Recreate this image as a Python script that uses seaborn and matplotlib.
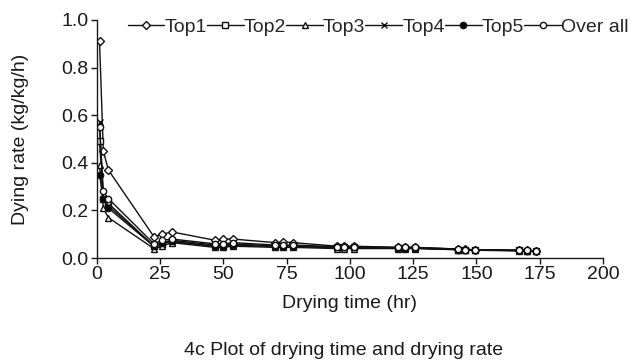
import pandas as pd
import seaborn as sns
import matplotlib.pyplot as plt

# Drying time (hr), shared by all series
hours = [1, 2.5, 4.5, 22.5, 25.7, 29.6, 46.6, 49.8, 53.8, 70.4, 73.5, 77.5,
         94.9, 97.6, 101.6, 119, 121.7, 125.7, 142.7, 145.5, 149.4, 167, 169.9, 173.5]

# Drying rate (kg/kg/h)
top1 = [0.91, 0.45, 0.37, 0.09, 0.10, 0.11, 0.075, 0.08, 0.08, 0.065, 0.068, 0.065,
        0.05, 0.05, 0.05, 0.045, 0.045, 0.045, 0.038, 0.037, 0.035, 0.033, 0.032, 0.03]
top2 = [0.49, 0.25, 0.23, 0.05, 0.06, 0.07, 0.05, 0.05, 0.055, 0.05, 0.05, 0.05,
        0.045, 0.045, 0.045, 0.042, 0.042, 0.042, 0.036, 0.035, 0.034, 0.032, 0.031, 0.03]
top3 = [0.39, 0.21, 0.17, 0.04, 0.05, 0.065, 0.045, 0.045, 0.05, 0.045, 0.045, 0.045,
        0.04, 0.04, 0.04, 0.04, 0.04, 0.04, 0.035, 0.035, 0.033, 0.03, 0.03, 0.028]
top4 = [0.57, 0.25, 0.22, 0.05, 0.065, 0.075, 0.055, 0.055, 0.06, 0.05, 0.05, 0.05,
        0.045, 0.045, 0.045, 0.042, 0.042, 0.042, 0.036, 0.035, 0.034, 0.032, 0.031, 0.03]
top5 = [0.35, 0.25, 0.21, 0.05, 0.065, 0.07, 0.05, 0.05, 0.055, 0.05, 0.05, 0.05,
        0.045, 0.045, 0.045, 0.042, 0.042, 0.042, 0.036, 0.035, 0.034, 0.032, 0.031, 0.03]
overall = [0.55, 0.28, 0.25, 0.06, 0.075, 0.08, 0.06, 0.06, 0.065, 0.055, 0.055, 0.055,
           0.048, 0.048, 0.048, 0.045, 0.045, 0.045, 0.038, 0.036, 0.035, 0.033, 0.032, 0.03]

series = {'Top1': top1, 'Top2': top2, 'Top3': top3, 'Top4': top4, 'Top5': top5, 'Over all': overall}
markers = {'Top1': 'D', 'Top2': 's', 'Top3': '^', 'Top4': 'x', 'Top5': 'o', 'Over all': 'o'}
sizes = {'Top1': 5.5, 'Top2': 6, 'Top3': 6.5, 'Top4': 6, 'Top5': 6, 'Over all': 7}

sns.set_style('ticks')
plt.rcParams['font.family'] = ['Liberation Sans', 'DejaVu Sans']

fig = plt.figure(figsize=(6.36, 3.62), dpi=100)
ax = fig.add_axes([0.1525, 0.287, 0.7955, 0.658])

for name, vals in series.items():
    df = pd.DataFrame({'hours': hours, 'rate': vals})
    face = 'black' if name == 'Top5' else 'white'
    sns.lineplot(data=df, x='hours', y='rate', ax=ax, color='#111111', linewidth=1.0,
                 marker=markers[name], markersize=sizes[name], markerfacecolor=face,
                 markeredgecolor='#111111', markeredgewidth=1.0, label=name, sort=False)

ax.set_xlim(0, 200)
ax.set_ylim(0, 1.0)
ax.set_xticks(range(0, 201, 25))
ax.set_yticks([0.0, 0.2, 0.4, 0.6, 0.8, 1.0])
ax.set_yticklabels(['0.0', '0.2', '0.4', '0.6', '0.8', '1.0'])
ax.tick_params(labelsize=14, length=4, width=1.0, colors='#1a1a1a', direction='out', pad=2)
for s in ['left', 'bottom']:
    ax.spines[s].set_linewidth(1.0)
    ax.spines[s].set_color('#1a1a1a')
sns.despine(ax=ax)

ax.set_xlabel('Drying time (hr)', fontsize=14, color='#1a1a1a', labelpad=8)
ax.set_ylabel('Dying rate (kg/kg/h)', fontsize=14, color='#1a1a1a')
ax.yaxis.set_label_coords(-0.135, 0.5)

handles, labels = ax.get_legend_handles_labels()
for h in handles:
    h.set_markersize(4.5)
ax.legend(handles, labels, ncol=6, frameon=False, fontsize=14, handlelength=1.9,
          handletextpad=0.0, columnspacing=0.0, borderaxespad=0,
          loc='center left', bbox_to_anchor=(0.045, 0.97))

fig.text(0.54, 0.02, '4c Plot of drying time and drying rate', ha='center',
         fontsize=14, color='#1a1a1a')

fig.savefig('out.png', dpi=100)
